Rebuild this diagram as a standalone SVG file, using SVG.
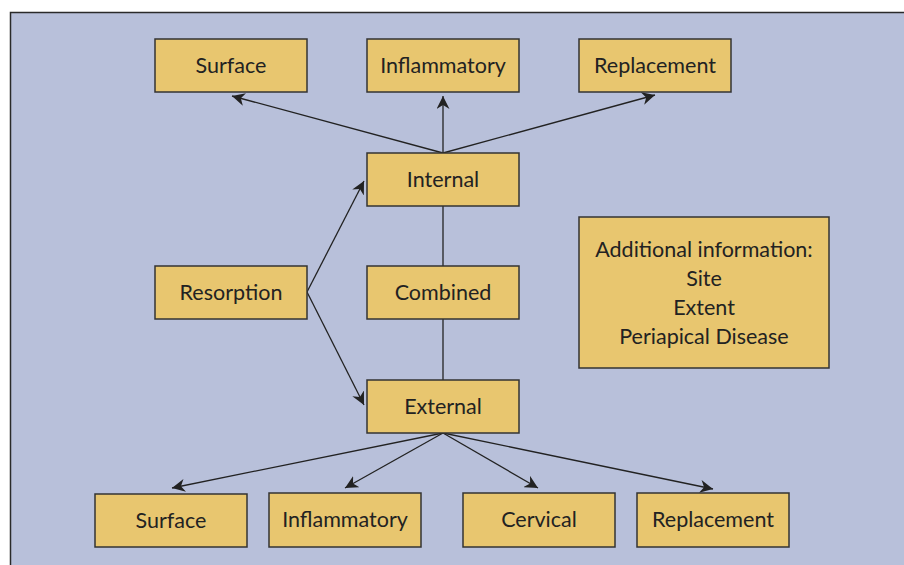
<svg xmlns="http://www.w3.org/2000/svg" width="904" height="565" viewBox="0 0 904 565">
<defs>
<style>
.bg{fill:#b8c0da;stroke:#2a2a2a;stroke-width:1.5}
.box{fill:#e8c66f;stroke:#333;stroke-width:1.5}
.t{font-family:Lato,"Open Sans",sans-serif;font-size:21.5px;fill:#222;text-anchor:middle}
.c{stroke:#222;stroke-width:1.3;fill:none}
.a{marker-end:url(#ah)}
</style>
<marker id="ah" viewBox="0 0 10 10" refX="10" refY="5" markerWidth="13" markerHeight="13" markerUnits="userSpaceOnUse" orient="auto">
<path d="M0,0 L10,5 L0,10 L3,5 Z" fill="#222"/>
</marker>
</defs>
<rect x="0" y="0" width="904" height="565" fill="#fff"/>
<rect class="bg" x="10.5" y="12.5" width="900" height="560"/>
<g id="connectors">
<line class="c a" x1="443" y1="153" x2="232" y2="96"/>
<line class="c a" x1="443" y1="153" x2="443" y2="96"/>
<line class="c a" x1="443" y1="153" x2="655" y2="95"/>
<line class="c a" x1="307" y1="292" x2="364" y2="181"/>
<line class="c a" x1="307" y1="292" x2="364" y2="405"/>
<line class="c" x1="443" y1="206" x2="443" y2="266"/>
<line class="c" x1="443" y1="319" x2="443" y2="380"/>
<line class="c a" x1="443" y1="433" x2="172" y2="488"/>
<line class="c a" x1="443" y1="433" x2="345" y2="488"/>
<line class="c a" x1="443" y1="433" x2="538" y2="488"/>
<line class="c a" x1="443" y1="433" x2="713" y2="489"/>
</g>
<g id="surface-top"><rect class="box" x="155" y="39" width="152" height="53"/><text class="t" x="231" y="73">Surface</text></g>
<g id="inflammatory-top"><rect class="box" x="367" y="39" width="152" height="53"/><text class="t" x="443" y="73">Inflammatory</text></g>
<g id="replacement-top"><rect class="box" x="579" y="39" width="152" height="53"/><text class="t" x="655" y="73">Replacement</text></g>
<g id="internal"><rect class="box" x="367" y="153" width="152" height="53"/><text class="t" x="443" y="187">Internal</text></g>
<g id="resorption"><rect class="box" x="155" y="266" width="152" height="53"/><text class="t" x="231" y="300">Resorption</text></g>
<g id="combined"><rect class="box" x="367" y="266" width="152" height="53"/><text class="t" x="443" y="300">Combined</text></g>
<g id="external"><rect class="box" x="367" y="380" width="152" height="53"/><text class="t" x="443" y="414">External</text></g>
<g id="additional"><rect class="box" x="579" y="217" width="250" height="151"/>
<text class="t" x="704" y="257">Additional information:</text>
<text class="t" x="704" y="286">Site</text>
<text class="t" x="704" y="315">Extent</text>
<text class="t" x="704" y="344">Periapical Disease</text></g>
<g id="surface-bottom"><rect class="box" x="95" y="494" width="152" height="53"/><text class="t" x="171" y="528">Surface</text></g>
<g id="inflammatory-bottom"><rect class="box" x="269" y="493" width="152" height="54"/><text class="t" x="345" y="527">Inflammatory</text></g>
<g id="cervical"><rect class="box" x="463" y="493" width="152" height="54"/><text class="t" x="539" y="527">Cervical</text></g>
<g id="replacement-bottom"><rect class="box" x="637" y="493" width="152" height="54"/><text class="t" x="713" y="527">Replacement</text></g>
</svg>
